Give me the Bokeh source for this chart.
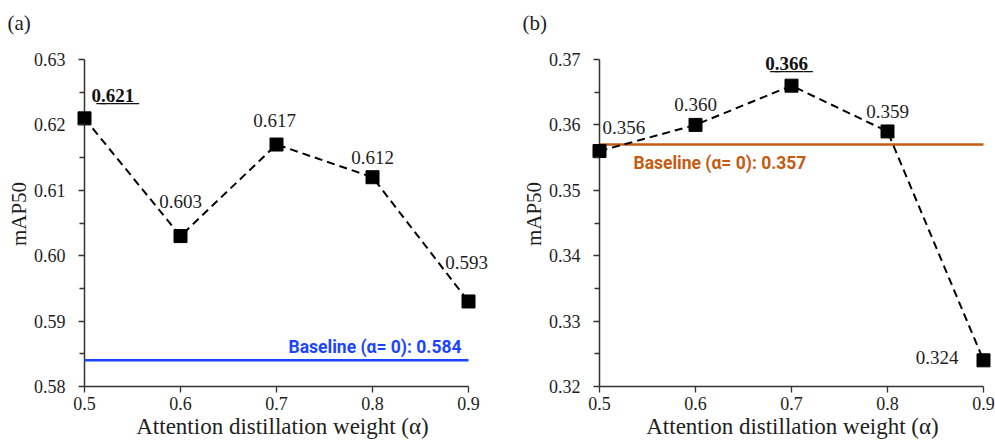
from bokeh.plotting import figure
from bokeh.layouts import row
from bokeh.models import Range1d, FixedTicker, Label, PrintfTickFormatter
from bokeh.embed import file_html
from bokeh.resources import INLINE

alpha = [0.5, 0.6, 0.7, 0.8, 0.9]
map_a = [0.621, 0.603, 0.617, 0.612, 0.593]
map_b = [0.356, 0.360, 0.366, 0.359, 0.324]
base_a = 0.584
base_b = 0.357
labels_a = ["0.621", "0.603", "0.617", "0.612", "0.593"]
labels_b = ["0.356", "0.360", "0.366", "0.359", "0.324"]
best_a = 0
best_b = 2
yticks_a = [0.58, 0.59, 0.60, 0.61, 0.62, 0.63]
yticks_b = [0.32, 0.33, 0.34, 0.35, 0.36, 0.37]
xticks = [0.5, 0.6, 0.7, 0.8, 0.9]

SERIF = "Liberation Serif"
BOLD = "Liberation Sans Narrow, Roboto"
AXIS_COLOR = "#333333"
TEXT_COLOR = "#1e1e1e"

XPX = 960.0     # pixels per unit of alpha
YPX = 6540.0    # pixels per unit of mAP50
PAD_L = 10      # frame space left of alpha=0.5
PAD_T = 18      # frame space above top tick
TOP = 41
HEIGHT = 446


def underline(s):
    return "".join(c + "\u0332" for c in s)


def make(panel, ys, labels, best, yticks, base, base_color, base_text,
         lb, fw, label_pos, base_pos):
    x0 = xticks[0] - PAD_L / XPX
    x1 = x0 + fw / XPX
    fh = int(round((yticks[-1] - yticks[0]) * YPX)) + PAD_T
    y1 = yticks[0] + fh / YPX
    p = figure(width=lb + fw, height=HEIGHT, output_backend="svg",
               toolbar_location=None, x_range=Range1d(x0, x1),
               y_range=Range1d(yticks[0], y1),
               min_border_left=lb, min_border_right=0,
               min_border_top=TOP, min_border_bottom=HEIGHT - TOP - fh,
               frame_width=fw, frame_height=fh)
    p.outline_line_color = None
    p.grid.visible = False
    p.background_fill_color = "white"

    p.title.text = panel
    p.title.text_font = SERIF
    p.title.text_font_size = "21px"
    p.title.text_font_style = "normal"
    p.title.text_color = TEXT_COLOR
    p.title.align = "left"
    p.title.offset = -67
    p.title.standoff = 14

    for ax in (p.xaxis[0], p.yaxis[0]):
        ax.axis_line_color = AXIS_COLOR
        ax.axis_line_width = 1.5
        ax.major_tick_line_color = AXIS_COLOR
        ax.minor_tick_line_color = AXIS_COLOR
        ax.major_tick_line_width = 1.3
        ax.minor_tick_line_width = 1.3
        ax.major_label_text_font = SERIF
        ax.major_label_text_font_size = "18px"
        ax.major_label_text_color = TEXT_COLOR
        ax.axis_label_text_font = SERIF
        ax.axis_label_text_font_style = "normal"
        ax.axis_label_text_color = TEXT_COLOR

    p.xaxis.ticker = FixedTicker(ticks=xticks)
    p.xaxis.formatter = PrintfTickFormatter(format="%.1f")
    p.xaxis.bounds = (xticks[0], xticks[-1])
    p.xaxis.major_tick_out = 6
    p.xaxis.major_tick_in = 0
    p.xaxis.minor_tick_out = 0
    p.xaxis.major_label_standoff = 4
    p.xaxis.axis_label = "Attention distillation weight (α)"
    p.xaxis.axis_label_text_font_size = "23px"
    p.xaxis.axis_label_standoff = 1

    minor = [(a + b) / 2 for a, b in zip(yticks[:-1], yticks[1:])]
    p.yaxis.ticker = FixedTicker(ticks=yticks, minor_ticks=minor)
    p.yaxis.formatter = PrintfTickFormatter(format="%.2f")
    p.yaxis.axis_line_color = None
    p.yaxis.major_tick_out = -(PAD_L - 6)
    p.yaxis.major_tick_in = PAD_L
    p.yaxis.minor_tick_out = -(PAD_L - 5)
    p.yaxis.minor_tick_in = PAD_L
    p.yaxis.major_label_standoff = 13
    p.yaxis.axis_label = "mAP50"
    p.yaxis.axis_label_text_font_size = "21px"
    p.yaxis.axis_label_standoff = 0

    # y axis line drawn at alpha = first tick
    p.segment(x0=[xticks[0]], y0=[yticks[0]], x1=[xticks[0]], y1=[yticks[-1]],
              line_color=AXIS_COLOR, line_width=1.5)

    # baseline
    p.line([xticks[0], xticks[-1]], [base, base], line_color=base_color,
           line_width=2.5)

    p.line(alpha, ys, line_color="black", line_width=2, line_dash="8 5")
    p.scatter(alpha, ys, marker="square", size=13, color="black")

    for i in range(len(ys)):
        dx, dy, al = label_pos[i]
        is_best = i == best
        p.add_layout(Label(x=alpha[i], y=ys[i],
                           text=underline(labels[i]) if is_best else labels[i],
                           x_offset=dx, y_offset=dy, text_align=al,
                           text_baseline="alphabetic", text_font=SERIF,
                           text_font_size="19px",
                           text_font_style="bold" if is_best else "normal",
                           text_color="#111111" if is_best else TEXT_COLOR))

    bx, dx, dy, al = base_pos
    p.add_layout(Label(x=bx, y=base, text=base_text, x_offset=dx, y_offset=dy,
                       text_align=al, text_baseline="alphabetic",
                       text_font=BOLD, text_font_size="17.5px",
                       text_font_style="bold", text_color=base_color))
    return p


pos_a = [(7, 23, "left"), (0, 35, "center"), (-2, 24, "center"),
         (0, 20, "center"), (-2, 39, "center")]
pos_b = [(3, 24, "left"), (0, 20, "center"), (-5, 22, "center"),
         (0, 20, "center"), (-25, 3, "right")]

pa = make("(a)", map_a, labels_a, best_a, yticks_a, base_a, "#1a44ff",
          "Baseline (α= 0): 0.584", 74, 416, pos_a,
          (xticks[-1], -7, 13, "right"))
pb = make("(b)", map_b, labels_b, best_b, yticks_b, base_b, "#c55a11",
          "Baseline (α= 0): 0.357", 99, 406, pos_b,
          (xticks[0], 34, -18, "left"))

layout = row(pa, pb)
open("out.html", "w").write(file_html(layout, INLINE))
